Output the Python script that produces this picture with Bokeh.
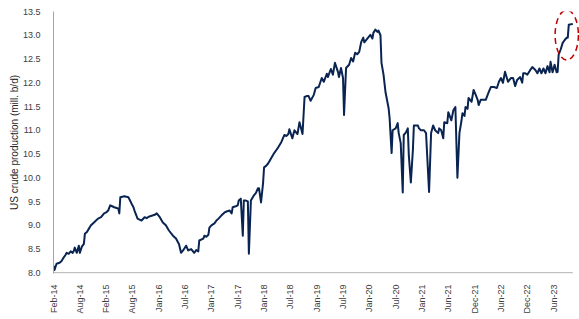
import math
from bokeh.plotting import figure
from bokeh.models import Range1d, FixedTicker, PrintfTickFormatter
from bokeh.embed import file_html
from bokeh.resources import INLINE

# Week index since first observation (Feb-14) and US crude production (mill. b/d)
weeks = [0, 1, 3, 6, 8, 10, 12, 13, 15, 17, 19, 20, 21, 23, 25, 26, 28, 30, 31, 33,
         35, 37, 40, 42, 44, 47, 50, 52, 54, 56, 58, 60, 63, 64, 65, 66, 70, 74, 77, 79,
         80, 82, 83, 85, 87, 90, 92, 94, 97, 100, 102, 105, 108, 111, 114, 118, 121, 124, 126, 128,
         131, 133, 136, 139, 141, 143, 144, 148, 149, 151, 153, 154, 156, 159, 161, 163, 166, 169, 171, 174,
         176, 177, 180, 182, 183, 185, 187, 188, 190, 192, 193, 195, 198, 200, 202, 203, 205, 207, 208, 210,
         212, 215, 218, 220, 222, 225, 228, 230, 232, 233, 236, 238, 241, 243, 246, 248, 250, 252, 254, 257,
         259, 262, 265, 267, 270, 271, 274, 276, 278, 281, 282, 284, 286, 287, 289, 292, 294, 296, 298, 300,
         302, 304, 306, 307, 310, 313, 315, 316, 318, 320, 321, 323, 324, 326, 328, 331, 332, 334, 335, 338,
         340, 341, 343, 345, 346, 348, 350, 351, 353, 355, 356, 358, 360, 361, 363, 366, 368, 371, 373, 375,
         377, 380, 381, 383, 385, 386, 389, 390, 393, 395, 397, 399, 401, 403, 404, 406, 407, 409, 410, 413,
         415, 417, 419, 420, 422, 425, 427, 430, 432, 435, 438, 440, 442, 444, 446, 449, 450, 452, 454, 456,
         458, 461, 463, 464, 466, 468, 471, 473, 476, 478, 480, 482, 484, 486, 488, 490, 491, 493, 495, 497,
         498, 499, 501, 503, 505, 507, 508, 509, 513]
production = [8.15, 8.06, 8.19, 8.21, 8.25, 8.32, 8.38, 8.42, 8.40, 8.45, 8.42, 8.46, 8.53, 8.42, 8.57, 8.42, 8.55, 8.61, 8.82, 8.86,
              8.93, 9.00, 9.06, 9.10, 9.14, 9.17, 9.25, 9.27, 9.31, 9.42, 9.40, 9.38, 9.36, 9.35, 9.25, 9.59, 9.61, 9.59, 9.46, 9.38,
              9.31, 9.20, 9.14, 9.12, 9.10, 9.17, 9.15, 9.18, 9.20, 9.22, 9.25, 9.17, 9.06, 9.00, 8.89, 8.78, 8.72, 8.60, 8.42, 8.47,
              8.57, 8.47, 8.50, 8.42, 8.48, 8.45, 8.68, 8.72, 8.78, 8.76, 8.80, 8.95, 9.00, 9.04, 9.10, 9.14, 9.21, 9.27, 9.29, 9.31,
              9.25, 9.38, 9.40, 9.42, 9.52, 9.56, 8.78, 9.52, 9.52, 9.50, 8.40, 9.52, 9.63, 9.68, 9.78, 9.78, 9.48, 9.88, 10.22, 10.25,
              10.30, 10.41, 10.52, 10.58, 10.64, 10.75, 10.90, 10.88, 10.92, 11.02, 10.83, 11.00, 10.92, 11.17, 10.92, 11.70, 11.72, 11.72, 11.62, 11.74,
              11.89, 11.91, 12.10, 12.02, 12.19, 12.12, 12.29, 12.17, 12.42, 12.23, 12.12, 12.31, 12.10, 11.32, 12.31, 12.38, 12.52, 12.45, 12.63, 12.60,
              12.65, 12.86, 12.95, 12.85, 12.93, 13.01, 12.93, 13.05, 13.12, 13.07, 13.10, 13.00, 12.42, 12.17, 11.80, 11.47, 11.26, 10.52, 11.00, 11.04,
              11.15, 10.94, 10.73, 9.69, 10.90, 10.95, 11.04, 10.47, 9.90, 10.58, 11.10, 11.10, 11.10, 11.04, 11.00, 11.00, 10.94, 9.70, 10.94, 11.10,
              11.00, 10.94, 11.04, 11.00, 10.83, 11.17, 11.15, 11.38, 11.21, 11.42, 11.49, 10.00, 10.94, 11.20, 11.36, 11.30, 11.49, 11.45, 11.68, 11.60,
              11.85, 11.75, 11.64, 11.53, 11.64, 11.64, 11.64, 11.81, 11.91, 11.91, 11.89, 12.02, 12.10, 12.00, 12.23, 12.02, 12.05, 12.10, 12.10, 11.93,
              12.06, 12.12, 12.00, 12.20, 12.20, 12.17, 12.27, 12.33, 12.27, 12.20, 12.30, 12.20, 12.30, 12.20, 12.35, 12.22, 12.44, 12.22, 12.38, 12.22,
              12.23, 12.59, 12.70, 12.84, 12.90, 12.95, 12.95, 13.22, 13.24]

tick_labels = ["Feb-14", "Aug-14", "Feb-15", "Aug-15", "Jan-16", "Jul-16", "Jan-17", "Jul-17",
               "Jan-18", "Jul-18", "Jan-19", "Jul-19", "Jan-20", "Jul-20", "Jan-21", "Jun-21",
               "Dec-21", "Jun-22", "Dec-22", "Jun-23"]
tick_weeks = [26 * i for i in range(len(tick_labels))]
y_ticks = [8.0, 8.5, 9.0, 9.5, 10.0, 10.5, 11.0, 11.5, 12.0, 12.5, 13.0, 13.5]

# highlighted recent surge (start index of the circled segment)
highlight_start = 499

FONT = "Liberation Sans"

p = figure(width=574, height=319, output_backend="svg", toolbar_location=None,
           x_range=Range1d(0, 519.6), y_range=Range1d(7.985, 13.5),
           min_border_left=47, min_border_right=0, min_border_top=11, min_border_bottom=46)
p.margin = (0, 0, 0, 5)
p.outline_line_color = None
p.grid.visible = False
p.background_fill_color = "white"
p.border_fill_color = "white"

# x axis
p.xaxis.ticker = FixedTicker(ticks=tick_weeks)
p.xaxis.major_label_overrides = {w: lab for w, lab in zip(tick_weeks, tick_labels)}
p.xaxis.major_label_orientation = math.pi / 2
p.xaxis.axis_line_color = None
p.xaxis.major_tick_line_color = None
p.xaxis.minor_tick_line_color = None
p.xaxis.major_label_standoff = 5
p.xaxis.major_label_text_font = FONT
p.xaxis.major_label_text_font_size = "9px"
p.xaxis.major_label_text_color = "#404040"

# y axis
p.yaxis.ticker = FixedTicker(ticks=y_ticks)
p.yaxis.formatter = PrintfTickFormatter(format="%.1f")
p.yaxis.axis_line_color = "#a6a6a6"
p.yaxis.major_tick_line_color = None
p.yaxis.minor_tick_line_color = None
p.yaxis.major_label_standoff = 7
p.yaxis.major_label_text_font = FONT
p.yaxis.major_label_text_font_size = "9px"
p.yaxis.major_label_text_color = "#404040"
p.yaxis.axis_label = "US crude production (mill. b/d)"
p.yaxis.axis_label_text_font = FONT
p.yaxis.axis_label_text_font_size = "10px"
p.yaxis.axis_label_text_font_style = "normal"
p.yaxis.axis_label_text_color = "#262626"
p.yaxis.axis_label_standoff = 0

# baseline (x axis line) from first to last observation
p.segment(x0=[weeks[0]], x1=[weeks[-1]], y0=[y_ticks[0]], y1=[y_ticks[0]],
          line_color="#a6a6a6", line_width=1)

p.line(weeks, production, line_color="#0a2452", line_width=2, line_join="round")

# dashed circle around the latest surge
hw = [w for w in weeks if w >= highlight_start]
hv = [v for w, v in zip(weeks, production) if w >= highlight_start]
cx = (hw[0] + hw[-1]) / 2 + 1
cy = (min(hv) + max(hv)) / 2 + 0.09
p.ellipse(x=[cx], y=[cy], width=[(hw[-1] - hw[0]) + 9], height=[(max(hv) - min(hv)) + 0.4],
          fill_color=None, line_color="#c00000", line_width=1.5, line_dash="6 4")

open("out.html", "w").write(file_html(p, INLINE))
